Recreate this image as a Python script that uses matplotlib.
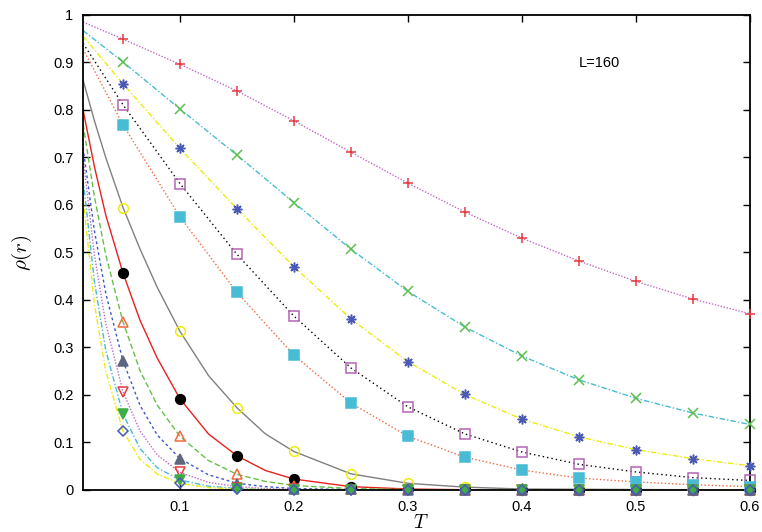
import numpy as np
import matplotlib
matplotlib.use('Agg')
import matplotlib.pyplot as plt
from matplotlib.ticker import FormatStrFormatter

plt.rcParams['font.family'] = ['Liberation Sans', 'DejaVu Sans']
plt.rcParams['mathtext.fontset'] = 'cm'

# temperatures of the data points
T = [0.05, 0.1, 0.15, 0.2, 0.25, 0.3, 0.35, 0.4, 0.45, 0.5, 0.55, 0.6]

# measured points, top curve to bottom curve
rho_plus   = [0.949, 0.896, 0.840, 0.777, 0.711, 0.646, 0.585, 0.530, 0.482, 0.439, 0.402, 0.371]
rho_cross  = [0.901, 0.802, 0.705, 0.605, 0.507, 0.418, 0.343, 0.282, 0.232, 0.193, 0.162, 0.138]
rho_star   = [0.855, 0.719, 0.592, 0.470, 0.360, 0.270, 0.201, 0.149, 0.112, 0.085, 0.066, 0.051]
rho_sqo    = [0.811, 0.645, 0.496, 0.366, 0.257, 0.175, 0.118, 0.080, 0.054, 0.038, 0.026, 0.020]
rho_sqf    = [0.769, 0.575, 0.416, 0.284, 0.183, 0.113, 0.069, 0.042, 0.025, 0.017, 0.011, 0.007]
rho_circo  = [0.593, 0.334, 0.173, 0.081, 0.034, 0.014, 0.006, 0.002, 0.001, 0.0, 0.0, 0.0]
rho_circf  = [0.457, 0.192, 0.072, 0.023, 0.007, 0.002, 0.001, 0.0, 0.0, 0.0, 0.0, 0.0]
rho_trio   = [0.354, 0.113, 0.033, 0.009, 0.003, 0.001, 0.0, 0.0, 0.0, 0.0, 0.0, 0.0]
rho_trif   = [0.272, 0.066, 0.012, 0.003, 0.001, 0.0, 0.0, 0.0, 0.0, 0.0, 0.0, 0.0]
rho_tdo    = [0.207, 0.037, 0.005, 0.001, 0.0, 0.0, 0.0, 0.0, 0.0, 0.0, 0.0, 0.0]
rho_tdf    = [0.160, 0.021, 0.003, 0.0, 0.0, 0.0, 0.0, 0.0, 0.0, 0.0, 0.0, 0.0]
rho_diam   = [0.124, 0.014, 0.002, 0.0, 0.0, 0.0, 0.0, 0.0, 0.0, 0.0, 0.0, 0.0]

# fitted curves, slow ones read at the left edge + the data temperatures
T_fit_slow = [0.015] + T
fit_plus  = [0.985] + rho_plus
fit_cross = [0.967] + rho_cross
fit_star  = [0.955] + rho_star
fit_sqo   = [0.940] + rho_sqo
fit_sqf   = [0.928] + rho_sqf

# fast ones read on a finer grid
T_fit_fast = [0.015, 0.025, 0.035, 0.05, 0.065, 0.08, 0.1, 0.125, 0.15, 0.175, 0.2, 0.25, 0.3, 0.35, 0.4, 0.6]
fit_circo = [0.863, 0.777, 0.699, 0.595, 0.507, 0.427, 0.334, 0.241, 0.173, 0.118, 0.081, 0.034, 0.014, 0.006, 0.002, 0.0]
fit_circf = [0.80, 0.68, 0.578, 0.457, 0.357, 0.278, 0.192, 0.118, 0.072, 0.041, 0.023, 0.007, 0.002, 0.0005, 0.0, 0.0]
fit_trio  = [0.77, 0.617, 0.494, 0.354, 0.251, 0.179, 0.113, 0.062, 0.033, 0.018, 0.0095, 0.003, 0.001, 0.0, 0.0, 0.0]
fit_trif  = [0.72, 0.545, 0.413, 0.272, 0.178, 0.116, 0.066, 0.032, 0.014, 0.007, 0.003, 0.0007, 0.0, 0.0, 0.0, 0.0]
fit_tdo   = [0.70, 0.494, 0.349, 0.207, 0.124, 0.074, 0.037, 0.016, 0.007, 0.003, 0.001, 0.0, 0.0, 0.0, 0.0, 0.0]
fit_tdf   = [0.655, 0.438, 0.293, 0.160, 0.087, 0.047, 0.021, 0.008, 0.003, 0.001, 0.0, 0.0, 0.0, 0.0, 0.0, 0.0]
fit_diam  = [0.615, 0.39, 0.25, 0.124, 0.0645, 0.0335, 0.014, 0.005, 0.002, 0.001, 0.0, 0.0, 0.0, 0.0, 0.0, 0.0]

# colours
red = '#e63a3f'
green = '#5cbf4e'
blue = '#4a5ab4'
purple = '#b464b4'
cyan = '#48bcd4'
yellow = '#ecec10'
orange = '#f26a3e'
slate = '#5e6682'
gray = '#808080'
orchid = '#c46ac4'

fig = plt.figure(figsize=(7.62, 5.32), dpi=100)
ax = fig.add_axes([0.109, 0.079, 0.875, 0.893])

# lines: (x, y, colour, dash)
lines = [
    (T_fit_slow, fit_plus, orchid, (0, (1, 1.2))),
    (T_fit_slow, fit_cross, cyan, (0, (4, 1.5, 1, 1.5))),
    (T_fit_slow, fit_star, yellow, (0, (4, 1.5, 1, 1.5))),
    (T_fit_slow, fit_sqo, 'black', (0, (1, 2.2))),
    (T_fit_slow, fit_sqf, orange, (0, (1, 1.6))),
    (T_fit_fast, fit_circo, gray, '-'),
    (T_fit_fast, fit_circf, '#e82020', '-'),
    (T_fit_fast, fit_trio, '#66c048', (0, (4, 2))),
    (T_fit_fast, fit_trif, '#3a5ac8', (0, (2, 2))),
    (T_fit_fast, fit_tdo, orchid, (0, (1, 1.2))),
    (T_fit_fast, fit_tdf, cyan, (0, (4, 1.5, 1, 1.5))),
    (T_fit_fast, fit_diam, yellow, (0, (4, 1.5, 1, 1.5))),
]
for x, y, c, ls in lines:
    ax.plot(x, y, color=c, linestyle=ls, lw=1.0, zorder=2)

# points: (y, marker, colour, filled)
points = [
    (rho_plus, '+', red, True),
    (rho_cross, 'x', green, True),
    (rho_star, (8, 2, 0), blue, True),
    (rho_sqo, 's', purple, False),
    (rho_sqf, 's', cyan, True),
    (rho_circo, 'o', yellow, False),
    (rho_circf, 'o', 'black', True),
    (rho_trio, '^', orange, False),
    (rho_trif, '^', slate, True),
    (rho_tdo, 'v', red, False),
    (rho_tdf, 'v', '#3cae46', True),
    (rho_diam, 'D', blue, False),
]
for y, m, c, filled in points:
    ms = 5.5 if m == 'D' else 7
    ax.plot(T, y, linestyle='none', marker=m, ms=ms, mew=1.1,
            mec=c, mfc=c if filled else 'none', clip_on=False, zorder=3)

ax.set_xlim(0.015, 0.6)
ax.set_ylim(0, 1)
ax.set_xticks([0.1, 0.2, 0.3, 0.4, 0.5, 0.6])
ax.set_yticks(np.arange(0, 1.01, 0.1))
ax.xaxis.set_major_formatter(FormatStrFormatter('%g'))
ax.yaxis.set_major_formatter(FormatStrFormatter('%g'))
ax.tick_params(direction='in', length=5, width=1, top=True, right=True,
               labelsize=10.5, pad=7)
for s in ax.spines.values():
    s.set_linewidth(1.3)

ax.set_xlabel(r'$T$', fontsize=14)
ax.xaxis.set_label_coords(0.506, -0.05)
ax.set_ylabel(r'$\rho(r)$', fontsize=15)
ax.yaxis.set_label_coords(-0.073, 0.5)
ax.text(0.744, 0.899, 'L=160', transform=ax.transAxes, fontsize=10.5,
        ha='left', va='center')

fig.savefig('out.png', dpi=100)
